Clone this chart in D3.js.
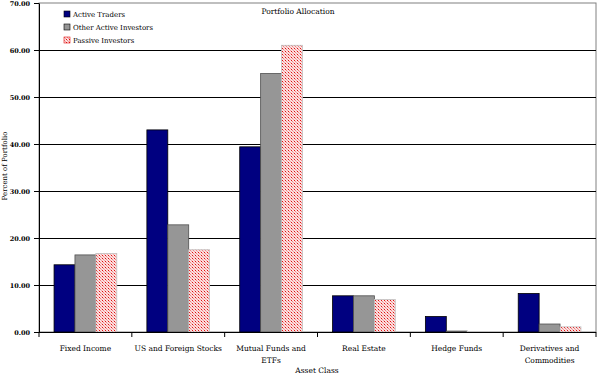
<!DOCTYPE html>
<html><head><meta charset="utf-8">
<script src="https://cdn.jsdelivr.net/npm/d3@7"></script>
<style>body{margin:0;background:#fff}svg{display:block}text{font-family:"DejaVu Serif",serif;fill:#000}</style>
</head><body><svg id="c" width="600" height="375"></svg>
<script>
const categories = [["Fixed Income"],["US and Foreign Stocks"],["Mutual Funds and","ETFs"],["Real Estate"],["Hedge Funds"],["Derivatives and","Commodities"]];
const seriesNames = ["Active Traders","Other Active Investors","Passive Investors"];
const activeTraders = [14.3, 43.0, 39.4, 7.7, 3.3, 8.2];
const otherActive = [16.4, 22.8, 55.0, 7.7, 0.2, 1.7];
const passive = [16.7, 17.5, 61.0, 6.9, 0.1, 1.1];
const yTicks = [0,10,20,30,40,50,60,70];

const svg = d3.select("#c");
const defs = svg.append("defs");
const pat = defs.append("pattern").attr("id","pink").attr("patternUnits","userSpaceOnUse").attr("width",3).attr("height",3);
pat.append("rect").attr("width",3).attr("height",3).attr("fill","#fbe0e0");
pat.append("rect").attr("x",0).attr("y",0).attr("width",1).attr("height",1).attr("fill","#e01010");
pat.append("rect").attr("x",1).attr("y",1).attr("width",1).attr("height",1).attr("fill","#f08080");
pat.append("rect").attr("x",2).attr("y",2).attr("width",1).attr("height",1).attr("fill","#f4a0a0");

const L=39, R=596, T=3, B=332;
const x = d3.scaleBand().domain(d3.range(categories.length)).range([L,R]).paddingInner(0).paddingOuter(0);
const y = d3.scaleLinear().domain([0,70]).range([B,T]);
const xs = d3.scaleBand().domain(d3.range(3)).range([0,x.bandwidth()]).paddingOuter(0.72).paddingInner(0);

svg.append("rect").attr("x",L).attr("y",T).attr("width",R-L).attr("height",B-T).attr("fill","none").attr("stroke","#808080").attr("stroke-width",1);
svg.append("g").selectAll("line").data(yTicks.filter(d=>d>0&&d<70)).join("line")
 .attr("x1",L).attr("x2",R).attr("y1",d=>Math.round(y(d))+0.5).attr("y2",d=>Math.round(y(d))+0.5).attr("stroke","#000");

const series = [
 {name:seriesNames[0], vals:activeTraders, fill:"#000080", stroke:"#000000"},
 {name:seriesNames[1], vals:otherActive, fill:"#969696", stroke:"#505050"},
 {name:seriesNames[2], vals:passive, fill:"url(#pink)", stroke:"#c0c0c0"}
];
series.forEach((s,si)=>{
 svg.append("g").selectAll("rect").data(s.vals).join("rect")
  .attr("x",(d,i)=>x(i)+xs(si)).attr("width",xs.bandwidth())
  .attr("y",d=>y(d)).attr("height",d=>B-y(d))
  .attr("fill",s.fill).attr("stroke",s.stroke).attr("stroke-width",0.8);
});

const ya = svg.append("g").attr("transform",`translate(${L},0)`).call(d3.axisLeft(y).tickValues(yTicks).tickFormat(d3.format(".2f")).tickSize(5).tickSizeOuter(0));
ya.select(".domain").attr("stroke","#000");
ya.selectAll("line").attr("stroke","#000");
ya.selectAll("text").attr("font-size",6.5).attr("font-family","DejaVu Serif, serif").attr("font-weight","bold").attr("fill","#000").attr("dx",-1);
const xa = svg.append("g").attr("transform",`translate(0,${B})`);
xa.append("line").attr("x1",L).attr("x2",R).attr("y1",0.5).attr("y2",0.5).attr("stroke","#000");
xa.selectAll("line.t").data(d3.range(categories.length+1)).join("line").attr("class","t")
 .attr("x1",i=>L+i*x.bandwidth()).attr("x2",i=>L+i*x.bandwidth()).attr("y1",0).attr("y2",5).attr("stroke","#000");
xa.selectAll("text.cl").data(categories).join("text").attr("class","cl")
 .attr("x",(d,i)=>x(i)+x.bandwidth()/2).attr("text-anchor","middle").attr("font-size",7.5).attr("fill","#000")
 .each(function(d){const t=d3.select(this);d.forEach((ln,j)=>t.append("tspan").attr("x",t.attr("x")).attr("y",19+j*12).text(ln));});

svg.append("text").attr("x",298).attr("y",14).attr("text-anchor","middle").attr("font-size",7.5).text("Portfolio Allocation");
svg.append("text").attr("x",317).attr("y",373).attr("text-anchor","middle").attr("font-size",7.5).text("Asset Class");
svg.append("text").attr("transform","translate(7,166) rotate(-90)").attr("text-anchor","middle").attr("font-size",7).attr("fill","#333").text("Percent of Portfolio");

const lg = svg.append("g");
series.forEach((s,i)=>{
 lg.append("rect").attr("x",64).attr("y",11+i*13).attr("width",6).attr("height",6).attr("fill",s.fill).attr("stroke",i==2?"#e01010":"#000").attr("stroke-width",0.6);
 lg.append("text").attr("x",73).attr("y",17+i*13).attr("font-size",7).text(s.name);
});
</script></body></html>
